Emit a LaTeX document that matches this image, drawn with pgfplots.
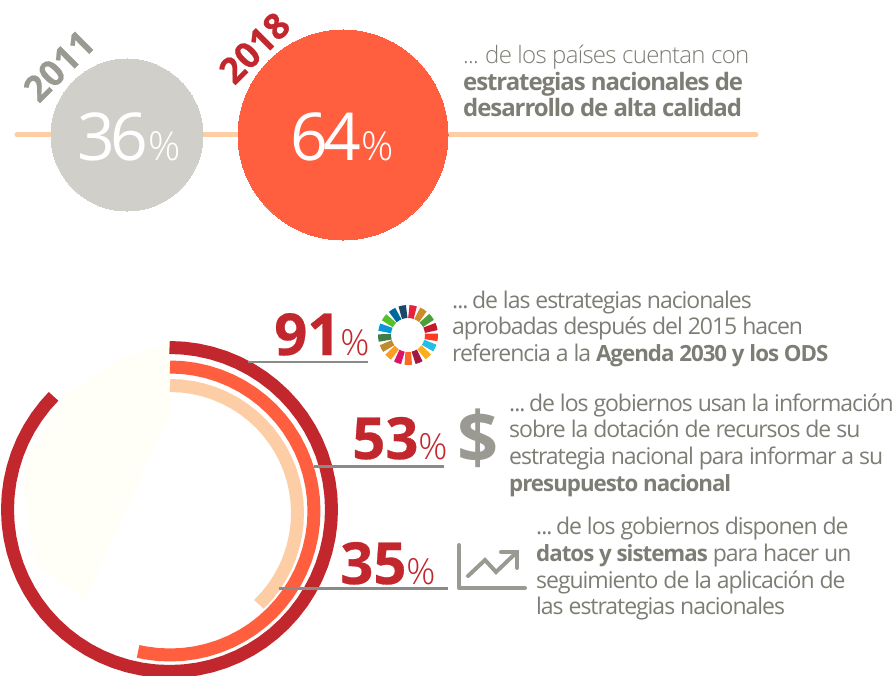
\documentclass[border=0pt]{standalone}
\usepackage{pgfplots}
\pgfplotsset{compat=1.18}
\usepackage{fontspec}
\setmainfont{Open Sans}[LetterSpace=-4.5]
\newfontfamily\light{Open Sans Light}[LetterSpace=-3]
\newfontfamily\boldish{Open Sans Bold}[FakeBold=0.5]
\newfontfamily\thin{Open Sans Light}
\newfontfamily\figs{Open Sans}[LetterSpace=-6]
\newcommand\bs[1]{{\fontsize{22.3}{23}\selectfont\bfseries #1}}
\definecolor{txt}{HTML}{7D7D76}
\definecolor{icon}{HTML}{9A9A93}
\definecolor{rule}{HTML}{8A8A86}
\definecolor{dred}{HTML}{C1272D}
\definecolor{orng}{HTML}{FF5F3F}
\definecolor{peach}{HTML}{FDCDA6}
\definecolor{stone}{HTML}{D0CFC9}
\definecolor{cream}{HTML}{FFFFF7}
\pgfplotsset{
  canvas/.style={width=896pt, height=675pt, scale only axis, hide axis, at={(0pt,0pt)}, anchor=south west},
  seg/.style={line width=13pt, line cap=butt, data cs=polar, forget plot},
  ring/.style={line width=13pt, line cap=butt, line join=round, data cs=polar, forget plot},
}
\tikzset{
  lbl/.style={anchor=base west, inner sep=0pt, text=txt, font=\fontsize{23}{23}\selectfont},
  top/.style={lbl, font=\fontsize{24}{24}\selectfont},
  big/.style={anchor=base west, inner sep=0pt},
}
\begin{document}
\begin{tikzpicture}
\path[use as bounding box] (0pt,0pt) rectangle (896pt,675pt);
% rings, centred on the origin of this axis
\begin{axis}[canvas, xmin=-169.5, xmax=726.5, ymin=-165.5, ymax=509.5]
\addplot[fill=cream, draw=none, forget plot] coordinates {(0.5,167.5)(0.5,96.5)(-84.5,-90.5)(-134.5,-55.5)(-146.5,26.5)(-139.5,59.5)(-102.5,116.5)(-46.5,152.5)} -- cycle;
\addplot[ring, dred] coordinates {(90,162)(85,162)(80,162)(75,162)(70,162)(65,162)(60,162)(55,162)(50,162)(45,162)(40,162)(35,162)(30,162)(25,162)(20,162)(15,162)(10,162)(5,162)(0,162)(-5,162)(-10,162)(-15,162)(-20,162)(-25,162)(-30,162)(-35,162)(-40,162)(-45,162)(-50,162)(-55,162)(-60,162)(-65,162)(-70,162)(-75,162)(-80,162)(-85,162)(-90,162)(-95,162)(-100,162)(-105,162)(-110,162)(-115,162)(-120,162)(-125,162)(-130,162)(-135,162)(-140,162)(-145,162)(-150,162)(-155,162)(-160,162)(-165,162)(-170,162)(-175,162)(-180,162)(-185,162)(-190,162)(-195,162)(-200,162)(-205,162)(-210,162)(-215,162)(-220,162)(-224.3,162)};
\addplot[ring, orng, xshift=0.5pt, yshift=-1.5pt] coordinates {(90,144)(85,144)(80,144)(75,144)(70,144)(65,144)(60,144)(55,144)(50,144)(45,144)(40,144)(35,144)(30,144)(25,144)(20,144)(15,144)(10,144)(5,144)(0,144)(-5,144)(-10,144)(-15,144)(-20,144)(-25,144)(-30,144)(-35,144)(-40,144)(-45,144)(-50,144)(-55,144)(-60,144)(-65,144)(-70,144)(-75,144)(-80,144)(-85,144)(-90,144)(-95,144)(-100,144)(-102.8,144)};
\addplot[ring, peach, xshift=0.5pt, yshift=-3.5pt] coordinates {(90,127.5)(85,127.5)(80,127.5)(75,127.5)(70,127.5)(65,127.5)(60,127.5)(55,127.5)(50,127.5)(45,127.5)(40,127.5)(35,127.5)(30,127.5)(25,127.5)(20,127.5)(15,127.5)(10,127.5)(5,127.5)(0,127.5)(-5,127.5)(-10,127.5)(-15,127.5)(-20,127.5)(-25,127.5)(-30,127.5)(-35,127.5)(-40,127.5)(-45.8,127.5)};
\end{axis}
% the two discs on their line; marks go over nodes, so the figures sit in the next axis
\begin{axis}[canvas, xmin=0, xmax=896, ymin=0, ymax=675, y dir=reverse, clip=false]
\addplot[peach, line width=5pt, line cap=round, forget plot] coordinates {(17,135)(756,135)};
\addplot[only marks, mark=*, mark size=76pt, mark options={fill=stone, draw=stone, line width=0pt}, forget plot] coordinates {(127,135)};
\addplot[only marks, mark=*, mark size=105pt, mark options={fill=orng, draw=orng, line width=0pt}, forget plot] coordinates {(343,135)};
\end{axis}
% everything else, in picture coordinates
\begin{axis}[canvas, xmin=0, xmax=896, ymin=0, ymax=675, y dir=reverse, clip=false]
\addplot[rule, line width=2.2pt, forget plot] coordinates {(248,362)(368,362)};
\addplot[rule, line width=2.2pt, forget plot] coordinates {(314,466.5)(444,466.5)};
\addplot[rule, line width=2.2pt, forget plot] coordinates {(279,588.5)(448,588.5)};
% trend icon
\addplot[icon, line width=4pt, line cap=round, line join=round, forget plot] coordinates {(459,545)(459,588)(525,588)};
\addplot[icon, line width=4pt, line cap=round, line join=miter, forget plot] coordinates {(468,576)(485,560)(496,572)(517,552)};
\addplot[icon, line width=4pt, line cap=round, line join=miter, forget plot] coordinates {(501,552)(517,552)(517,568)};
% years and the two big figures
\node[big, anchor=base, rotate=45, text=icon, font=\fontsize{36}{36}\selectfont\boldish] at (axis cs:68,75) {2011};
\node[big, anchor=base, rotate=45, text=dred, font=\fontsize{36}{36}\selectfont\boldish] at (axis cs:263.5,57) {2018};
\node[big, text=white, font=\fontsize{66}{66}\selectfont\figs] at (axis cs:77,160) {36{\fontsize{40}{40}\selectfont\thin\%}};
\node[big, text=white, font=\fontsize{66}{66}\selectfont\figs] at (axis cs:290,160) {64{\fontsize{40}{40}\selectfont\thin\%}};
% three red figures
\node[big, text=dred, font=\fontsize{58}{58}\selectfont\boldish] at (axis cs:274,355) {91{\fontsize{36}{36}\selectfont\thin\%}};
\node[big, text=dred, font=\fontsize{58}{58}\selectfont\boldish] at (axis cs:352,459) {53{\fontsize{36}{36}\selectfont\thin\%}};
\node[big, text=dred, font=\fontsize{58}{58}\selectfont\boldish] at (axis cs:340,584) {35{\fontsize{36}{36}\selectfont\thin\%}};
\node[big, anchor=base, text=icon, font=\fontsize{72}{72}\selectfont\bfseries] at (axis cs:478,463) {\$};
% captions
\node[top] at (axis cs:463,63) {\light ...\kern-1pt{} de los países cuentan con};
\node[top] at (axis cs:463,90) {\bfseries estrategias nacionales de};
\node[top] at (axis cs:463,116) {\bfseries desarrollo de alta calidad};
\node[lbl] at (axis cs:452,308) {...\kern-3pt{} de las estrategias nacionales};
\node[lbl] at (axis cs:452,334) {aprobadas después del 2015 hacen};
\node[lbl] at (axis cs:452,361) {referencia a la \bs{Agenda 2030 y los ODS}};
\node[lbl] at (axis cs:509,411) {...\kern-3pt{} de los gobiernos usan la información};
\node[lbl] at (axis cs:509,437) {sobre la dotación de recursos de su};
\node[lbl] at (axis cs:509,464) {estrategia nacional para informar a su};
\node[lbl] at (axis cs:509,491) {\bs{presupuesto nacional}};
\node[lbl] at (axis cs:536,534) {...\kern-3pt{} de los gobiernos disponen de};
\node[lbl] at (axis cs:536,561) {\bs{datos y sistemas} para hacer un};
\node[lbl] at (axis cs:536,588) {seguimiento de la aplicación de};
\node[lbl] at (axis cs:536,614) {las estrategias nacionales};
\end{axis}
% goals wheel, centred on the origin of this axis
\begin{axis}[canvas, xmin=-408, xmax=488, ymin=-340, ymax=335]
\addplot[seg, color={rgb,255:red,229;green,36;blue,59}] coordinates {(88,23.5)(80,23.5)(72,23.5)};
\addplot[seg, color={rgb,255:red,205;green,140;blue,40}] coordinates {(66.8,23.5)(58.8,23.5)(50.8,23.5)};
\addplot[seg, color={rgb,255:red,76;green,159;blue,56}] coordinates {(45.6,23.5)(37.6,23.5)(29.6,23.5)};
\addplot[seg, color={rgb,255:red,197;green,25;blue,45}] coordinates {(24.5,23.5)(16.5,23.5)(8.5,23.5)};
\addplot[seg, color={rgb,255:red,255;green,58;blue,33}] coordinates {(3.3,23.5)(-4.7,23.5)(-12.7,23.5)};
\addplot[seg, color={rgb,255:red,38;green,189;blue,226}] coordinates {(-17.9,23.5)(-25.9,23.5)(-33.9,23.5)};
\addplot[seg, color={rgb,255:red,252;green,175;blue,30}] coordinates {(-39.1,23.5)(-47.1,23.5)(-55.1,23.5)};
\addplot[seg, color={rgb,255:red,162;green,25;blue,66}] coordinates {(-60.2,23.5)(-68.2,23.5)(-76.2,23.5)};
\addplot[seg, color={rgb,255:red,253;green,105;blue,37}] coordinates {(-81.4,23.5)(-89.4,23.5)(-97.4,23.5)};
\addplot[seg, color={rgb,255:red,221;green,19;blue,103}] coordinates {(-102.6,23.5)(-110.6,23.5)(-118.6,23.5)};
\addplot[seg, color={rgb,255:red,253;green,157;blue,36}] coordinates {(-123.8,23.5)(-131.8,23.5)(-139.8,23.5)};
\addplot[seg, color={rgb,255:red,191;green,139;blue,46}] coordinates {(-144.9,23.5)(-152.9,23.5)(-160.9,23.5)};
\addplot[seg, color={rgb,255:red,63;green,126;blue,68}] coordinates {(-166.1,23.5)(-174.1,23.5)(-182.1,23.5)};
\addplot[seg, color={rgb,255:red,10;green,151;blue,217}] coordinates {(-187.3,23.5)(-195.3,23.5)(-203.3,23.5)};
\addplot[seg, color={rgb,255:red,86;green,192;blue,43}] coordinates {(-208.5,23.5)(-216.5,23.5)(-224.5,23.5)};
\addplot[seg, color={rgb,255:red,0;green,104;blue,157}] coordinates {(-229.6,23.5)(-237.6,23.5)(-245.6,23.5)};
\addplot[seg, color={rgb,255:red,25;green,72;blue,106}] coordinates {(-250.8,23.5)(-258.8,23.5)(-266.8,23.5)};
\end{axis}
\end{tikzpicture}
\end{document}
